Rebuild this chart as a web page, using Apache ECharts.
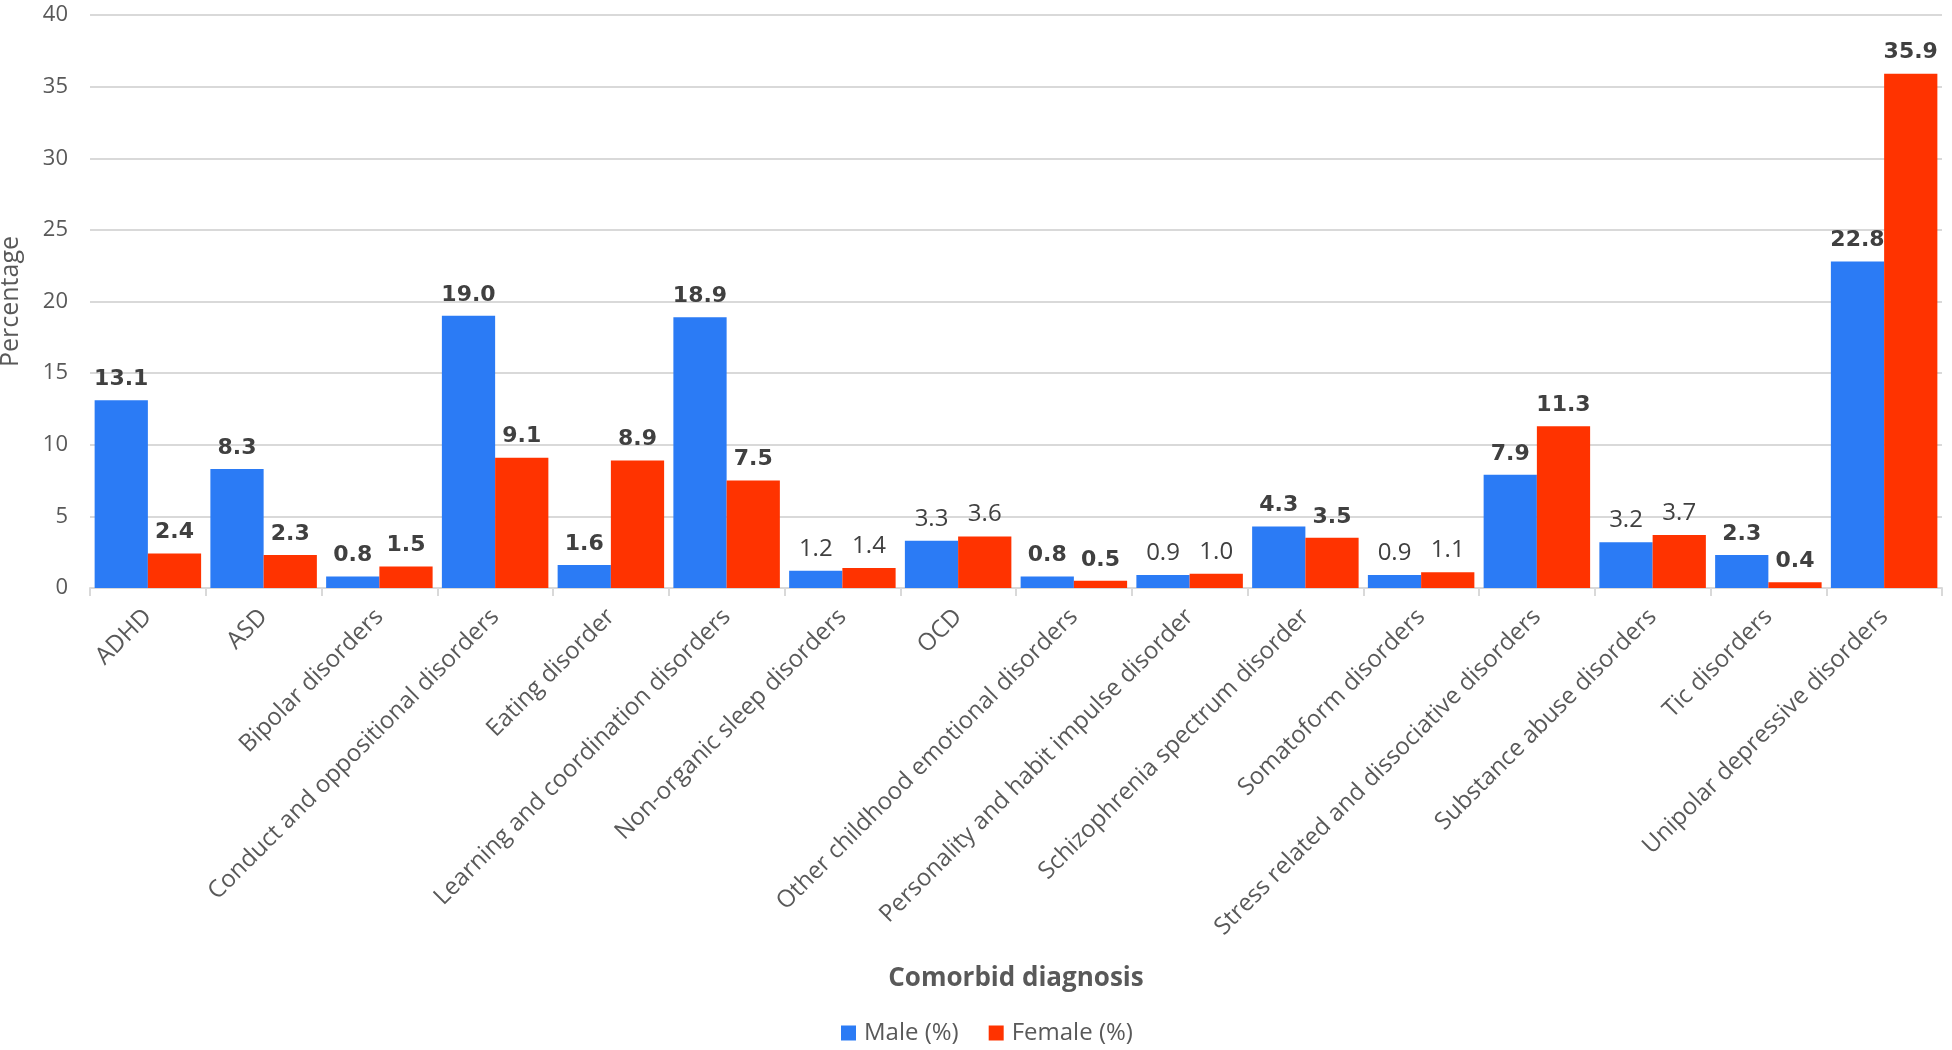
<!DOCTYPE html>
<html><head><meta charset="utf-8">
<script src="https://cdn.jsdelivr.net/npm/echarts@6/dist/echarts.min.js"></script>
<style>html,body{margin:0;padding:0;background:#fff}#c{width:1952px;height:1050px}</style>
</head><body><div id="c"></div>
<script>
const categories = ["ADHD","ASD","Bipolar disorders","Conduct and oppositional disorders","Eating disorder","Learning and coordination disorders","Non-organic sleep disorders","OCD","Other childhood emotional disorders","Personality and habit impulse disorder","Schizophrenia spectrum disorder","Somatoform disorders","Stress related and dissociative disorders","Substance abuse disorders","Tic disorders","Unipolar depressive disorders"];
const maleValues = [13.1, 8.3, 0.8, 19.0, 1.6, 18.9, 1.2, 3.3, 0.8, 0.9, 4.3, 0.9, 7.9, 3.2, 2.3, 22.8];
const femaleValues = [2.4, 2.3, 1.5, 9.1, 8.9, 7.5, 1.4, 3.6, 0.5, 1.0, 3.5, 1.1, 11.3, 3.7, 0.4, 35.9];
const boldLabel = [1,1,1,1,1,1,0,0,1,0,1,0,1,0,1,1];
const yTicks = [0,5,10,15,20,25,30,35,40];

const chart = echarts.init(document.getElementById('c'));
function mk(vals){
  return vals.map((v,i)=>({value:v,label:{fontWeight: boldLabel[i]?'bold':'normal', fontFamily: boldLabel[i]?'DejaVu Sans':'Open Sans', fontSize: boldLabel[i]?22:24}}));
}
chart.setOption({
  animation:false,
  textStyle:{fontFamily:'Open Sans'},
  grid:{left:90,right:10,top:15,bottom:462,outerBoundsMode:'none',containLabel:false},
  legend:{bottom:0,left:836,itemWidth:15,itemHeight:15,itemGap:30,icon:'rect',
    textStyle:{fontSize:24,color:'#595959',fontFamily:'Open Sans',padding:[0,0,0,3]},
    data:['Male (%)','Female (%)']},
  xAxis:{type:'category',data:categories,
    axisLine:{lineStyle:{color:'#D9D9D9',width:2}},
    axisTick:{show:true,alignWithLabel:false,length:8,lineStyle:{color:'#D9D9D9',width:2}},
    axisLabel:{rotate:45,interval:0,fontSize:24,color:'#595959',margin:25,fontFamily:'Open Sans'},
    name:'Comorbid diagnosis',nameLocation:'middle',nameGap:378,
    nameTextStyle:{fontSize:26,fontWeight:'bold',color:'#595959',fontFamily:'Open Sans'}},
  yAxis:{type:'value',min:0,max:40,interval:5,
    axisLine:{show:false},axisTick:{show:false},
    splitLine:{lineStyle:{color:'#D9D9D9',width:2}},
    axisLabel:{fontSize:22,color:'#595959',margin:22,fontFamily:'Open Sans',
      formatter:v=>yTicks.includes(v)?String(v):''},
    name:'Percentage',nameLocation:'middle',nameGap:67,
    nameTextStyle:{fontSize:25,color:'#595959',fontFamily:'Open Sans'}},
  series:[
    {name:'Male (%)',type:'bar',data:mk(maleValues),barGap:'0%',barCategoryGap:'8%',
      itemStyle:{color:'#2B7BF5'},
      label:{show:true,position:'top',distance:10,color:'#404040',formatter:p=>p.value.toFixed(1)}},
    {name:'Female (%)',type:'bar',data:mk(femaleValues),barGap:'0%',barCategoryGap:'8%',
      itemStyle:{color:'#FF3300'},
      label:{show:true,position:'top',distance:10,color:'#404040',formatter:p=>p.value.toFixed(1)}}
  ]
});
</script></body></html>
